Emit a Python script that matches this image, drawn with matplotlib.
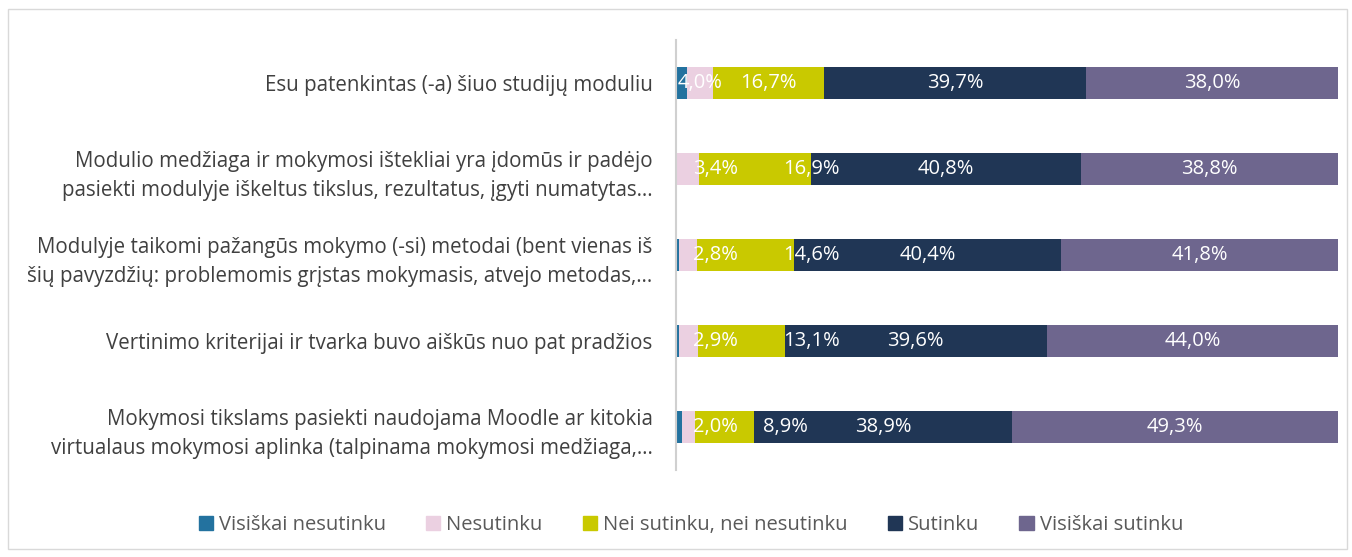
import matplotlib.pyplot as plt
from matplotlib.patches import Rectangle, Patch
import numpy as np

categories = [
    "Esu patenkintas (-a) šiuo studijų moduliu",
    "Modulio medžiaga ir mokymosi ištekliai yra įdomūs ir padėjo\npasiekti modulyje iškeltus tikslus, rezultatus, įgyti numatytas…",
    "Modulyje taikomi pažangūs mokymo (-si) metodai (bent vienas iš\nšių pavyzdžių: problemomis grįstas mokymasis, atvejo metodas,…",
    "Vertinimo kriterijai ir tvarka buvo aiškūs nuo pat pradžios",
    "Mokymosi tikslams pasiekti naudojama Moodle ar kitokia\nvirtualaus mokymosi aplinka (talpinama mokymosi medžiaga,…",
]
series = ["Visiškai nesutinku", "Nesutinku", "Nei sutinku, nei nesutinku",
          "Sutinku", "Visiškai sutinku"]
visiskai_nesutinku = [1.6, 0.1, 0.4, 0.4, 0.9]
nesutinku = [4.0, 3.4, 2.8, 2.9, 2.0]
nei = [16.7, 16.9, 14.6, 13.1, 8.9]
sutinku = [39.7, 40.8, 40.4, 39.6, 38.9]
visiskai_sutinku = [38.0, 38.8, 41.8, 44.0, 49.3]
colors = ["#23729f", "#ebd0e1", "#c9c900", "#203655", "#6e668e"]

values = np.array([visiskai_nesutinku, nesutinku, nei, sutinku, visiskai_sutinku])

fig = plt.figure(figsize=(13.52, 5.57), dpi=100)
ax = fig.add_axes([0.5, 0.156, 0.4896, 0.772])

y = np.arange(len(categories))
left = np.zeros(len(categories))
for i, (name, col) in enumerate(zip(series, colors)):
    ax.barh(y, values[i], left=left, height=0.38, color=col, label=name)
    centers = left + values[i] / 2
    for r in range(len(categories)):
        if i == 0:
            continue
        x = centers[r]
        # labels of small segments are pushed right, like in the original
        if i == 1 and r > 0:
            x = max(x, 6.0)
        if i == 2 and r > 0:
            x = max(x, 6.0 + (10.5 if values[i][r] < 10 else 14.5))
        ax.text(x, r, f"{values[i][r]:.1f}%".replace(".", ","), ha="center",
                va="center", color="white", fontsize=14.5, family="Open Sans")
    left += values[i]

ax.set_xlim(0, 100)
ax.set_ylim(len(categories) - 0.5, -0.5)
ax.set_yticks(y)
ax.set_yticklabels(categories, fontsize=14.8, color="#404040", family="Open Sans",
                   linespacing=1.55)
ax.tick_params(axis="y", length=0, pad=17)
ax.set_xticks([])
for s in ["top", "right", "bottom"]:
    ax.spines[s].set_visible(False)
ax.spines["left"].set_color("#d0d0d0")
ax.spines["left"].set_linewidth(1.5)

handles = [Patch(color=c, label=n) for n, c in zip(series, colors)]
fig.legend(handles=handles, loc="center", bbox_to_anchor=(0.511, 0.058), ncol=5,
           frameon=False, handlelength=0.7, handleheight=0.7, handletextpad=0.3,
           columnspacing=2.0, prop={"family": "Open Sans", "size": 14.5},
           labelcolor="#595959")

fig.patches.append(Rectangle((0.006, 0.014), 0.99, 0.97, transform=fig.transFigure,
                             fill=False, edgecolor="#d9d9d9", linewidth=1))

fig.savefig("out.png", dpi=100)
